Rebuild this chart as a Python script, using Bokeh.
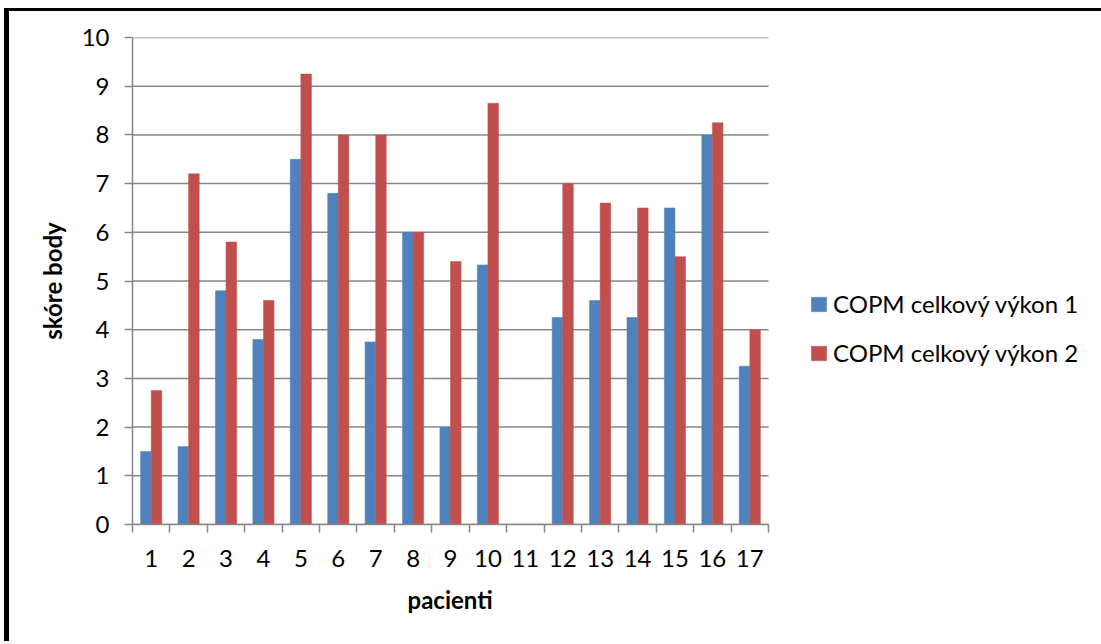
from bokeh.plotting import figure
from bokeh.models import Range1d, FixedTicker, Legend, LegendItem, Title
from bokeh.embed import file_html
from bokeh.resources import INLINE

patients = [str(i) for i in range(1, 18)]
copm1 = [1.5, 1.6, 4.8, 3.8, 7.5, 6.8, 3.75, 6.0, 2.0, 5.33, 0, 4.25, 4.6, 4.25, 6.5, 8.0, 3.25]
copm2 = [2.75, 7.2, 5.8, 4.6, 9.25, 8.0, 8.0, 6.0, 5.4, 8.65, 0, 7.0, 6.6, 6.5, 5.5, 8.25, 4.0]
y_ticks = list(range(0, 11))
series_names = ["COPM celkový výkon 1", "COPM celkový výkon 2"]
x_title = "pacienti"
y_title = "skóre body"

FONT = "Lato"
FS = "24px"
GRID = "#878787"
BLUE = "#4F81BD"
RED = "#C0504D"

n = len(patients)
centers = [i + 1 for i in range(n)]
bw = 0.283
x1 = [c - bw / 2 for c in centers]
x2 = [c + bw / 2 for c in centers]

MX, MY = 4, 8           # outer margin before the frame border
BX, BY = 5, 3           # border widths
OX, OY = MX + BX, MY + BY
HOST_W = 1101 - MX - BX  # so the top border reaches the right edge
HOST_H = 644 - OY - BY
CANVAS_W = HOST_W + BX   # canvas is sized to the host's outer box
LEFT, TOP, BOTTOM = 132 - OX, 37 - OY, 120
BAR_AREA_W = 636        # pixel width of the category area
frame_w = CANVAS_W - LEFT
x_end = 0.5 + frame_w * n / BAR_AREA_W

p = figure(width=HOST_W, height=HOST_H, output_backend="svg",
           toolbar_location=None,
           x_range=Range1d(0.5, x_end), y_range=Range1d(0, 10),
           min_border_left=LEFT, min_border_right=0, min_border_top=TOP,
           min_border_bottom=BOTTOM,
           margin=(MY, 0, 0, MX),
           styles={"border-top": f"{BY}px solid black", "border-left": f"{BX}px solid black",
                   "box-sizing": "content-box"})
p.outline_line_color = None
p.background_fill_color = "white"
p.border_fill_color = "white"
p.xgrid.grid_line_color = None
p.ygrid.grid_line_color = None

# horizontal gridlines limited to the category area
p.segment(x0=[0.5] * len(y_ticks), x1=[n + 0.5] * len(y_ticks), y0=y_ticks, y1=y_ticks,
          line_color=GRID, line_width=1.5)

r1 = p.vbar(x=x1, top=copm1, width=bw, fill_color=BLUE, line_color=BLUE, line_width=0.5)
r2 = p.vbar(x=x2, top=copm2, width=bw, fill_color=RED, line_color=RED, line_width=0.5)

p.xaxis.bounds = (0.5, n + 0.5)
p.xaxis.ticker = FixedTicker(ticks=centers, minor_ticks=[c + 0.5 for c in range(0, n + 1)])
p.xaxis.major_label_overrides = {c: patients[i] for i, c in enumerate(centers)}
p.xaxis.major_tick_out = 0
p.xaxis.major_tick_in = 0
p.xaxis.minor_tick_out = 8
p.xaxis.minor_tick_in = 0
p.xaxis.minor_tick_line_color = GRID
p.xaxis.minor_tick_line_width = 1.5
p.xaxis.axis_line_color = GRID
p.xaxis.axis_line_width = 1.5
p.xaxis.major_label_standoff = 17

p.yaxis.ticker = FixedTicker(ticks=y_ticks, minor_ticks=[])
p.yaxis.major_tick_out = 8
p.yaxis.major_tick_in = 0
p.yaxis.major_tick_line_color = GRID
p.yaxis.major_tick_line_width = 1.5
p.yaxis.axis_line_color = GRID
p.yaxis.axis_line_width = 1.5
p.yaxis.major_label_standoff = 15
p.yaxis.axis_label = y_title
p.yaxis.axis_label_standoff = 12

for ax in (p.xaxis, p.yaxis):
    ax.major_label_text_font = FONT
    ax.major_label_text_font_size = FS
    ax.major_label_text_color = "black"
    ax.axis_label_text_font = FONT
    ax.axis_label_text_font_size = FS
    ax.axis_label_text_font_style = "bold"
    ax.axis_label_text_color = "black"

# x-axis title centred under the category area (not the whole frame)
p.add_layout(Title(text=x_title, align="left", offset=275, standoff=26,
                   text_font=FONT, text_font_size=FS, text_font_style="bold",
                   text_color="black"), "below")

legend = Legend(items=[LegendItem(label=series_names[0], renderers=[r1]),
                       LegendItem(label=series_names[1], renderers=[r2])],
                location=(677, 157), orientation="vertical",
                glyph_width=19, glyph_height=18, label_height=20, spacing=20,
                label_standoff=5, padding=0, margin=0,
                border_line_color=None, background_fill_alpha=0,
                label_text_font=FONT, label_text_font_size=FS, label_text_color="black")
p.add_layout(legend, "center")

open("out.html", "w").write(file_html(p, INLINE))
